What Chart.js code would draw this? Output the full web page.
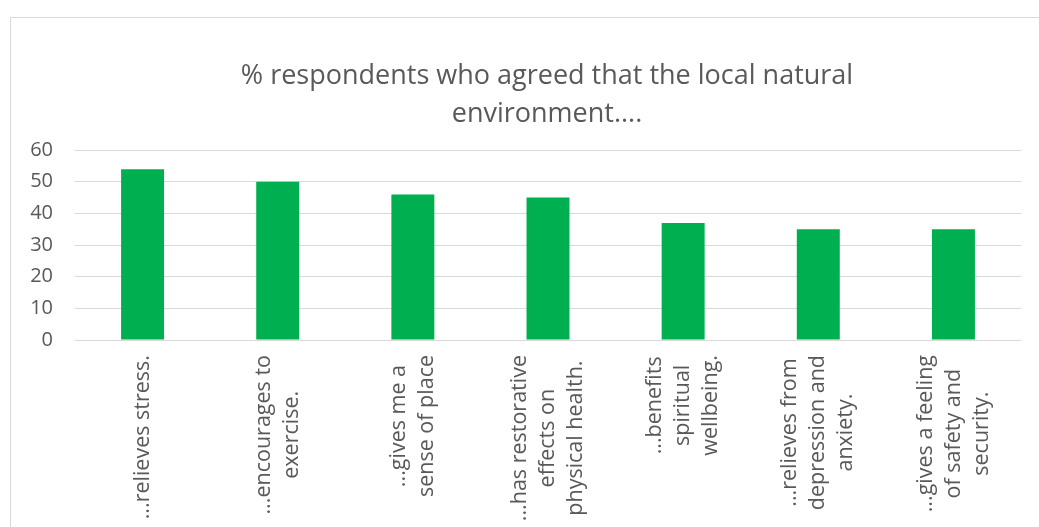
<!DOCTYPE html>
<html>
<head>
<meta charset="utf-8">
<script src="https://cdn.jsdelivr.net/npm/chart.js@4"></script>
<style>
  html, body { margin: 0; padding: 0; background: #fff; overflow: hidden; }
  #frame {
    position: absolute; left: 10px; top: 17px; width: 1100px; height: 600px;
    border-left: 1px solid #d9d9d9; border-top: 1px solid #d9d9d9;
  }
  #chart { position: absolute; left: 0; top: 0; }
</style>
</head>
<body>
<div id="frame"><canvas id="chart" width="1072" height="520"></canvas></div>
<script>
// data
const categories = [
    ['...relieves stress.'],
    ['...encourages to', 'exercise.'],
    ['...gives me a', 'sense of place'],
    ['...has restorative', 'effects on', 'physical health.'],
    ['...benefits', 'spiritual', 'wellbeing.'],
    ['...relieves from', 'depression and', 'anxiety.'],
    ['...gives a feeling', 'of safety and', 'security.']
];
const agreed = [54, 50, 46, 45, 37, 35, 35];
const yTicks = [0, 10, 20, 30, 40, 50, 60];
const titleLines = ['% respondents who agreed that the local natural', 'environment....'];

const textColor = '#595959';
const gridColor = '#d9d9d9';

// rotated category labels, lines centred on each other like Excel does
const categoryLabels = {
    id: 'categoryLabels',
    afterDraw(chart) {
        const ctx = chart.ctx;
        const xScale = chart.scales.x;
        const top = chart.chartArea.bottom + 15;
        ctx.save();
        ctx.font = '21.5px "Open Sans"';
        ctx.fillStyle = textColor;
        ctx.textBaseline = 'middle';
        ctx.textAlign = 'center';
        categories.forEach((lines, i) => {
            const x = xScale.getPixelForTick(i);
            const w = Math.max(...lines.map(l => ctx.measureText(l).width));
            ctx.save();
            ctx.translate(x, top);
            ctx.rotate(-Math.PI / 2);
            lines.forEach((line, j) => {
                ctx.fillText(line, -w / 2, (j - (lines.length - 1) / 2) * 28);
            });
            ctx.restore();
        });
        ctx.restore();
    }
};

function draw() {
    const ctx = document.getElementById('chart').getContext('2d');
    new Chart(ctx, {
        type: 'bar',
        data: {
            labels: categories,
            datasets: [{
                label: '% agreed',
                data: agreed,
                backgroundColor: '#00b050',
                barPercentage: 0.318,
                categoryPercentage: 1
            }]
        },
        options: {
            responsive: false,
            animation: false,
            layout: { padding: { left: 0, right: 0, top: 0, bottom: 190 } },
            plugins: {
                legend: { display: false },
                tooltip: { enabled: false },
                title: {
                    display: true,
                    text: titleLines,
                    color: textColor,
                    font: { family: 'Open Sans', size: 27, weight: 'normal', lineHeight: 1.41 },
                    padding: { top: 39, bottom: 17 }
                }
            },
            scales: {
                x: {
                    grid: { display: false },
                    border: { display: false },
                    ticks: { display: false }
                },
                y: {
                    min: 0,
                    max: 60,
                    afterFit(scale) { scale.width = 64; },
                    afterBuildTicks(scale) { scale.ticks = yTicks.map(v => ({ value: v })); },
                    grid: { color: gridColor, drawTicks: false },
                    border: { display: false },
                    ticks: {
                        color: textColor,
                        padding: 22,
                        font: { family: 'Open Sans', size: 20 }
                    }
                },
                // empty right-hand margin, keeps the title centred on the whole chart
                yRight: {
                    position: 'right',
                    min: 0,
                    max: 60,
                    afterFit(scale) { scale.width = 62; },
                    grid: { display: false },
                    border: { display: false },
                    ticks: { display: false }
                }
            }
        },
        plugins: [categoryLabels]
    });
}

document.fonts.load('20px "Open Sans"').then(draw, draw);
</script>
</body>
</html>
